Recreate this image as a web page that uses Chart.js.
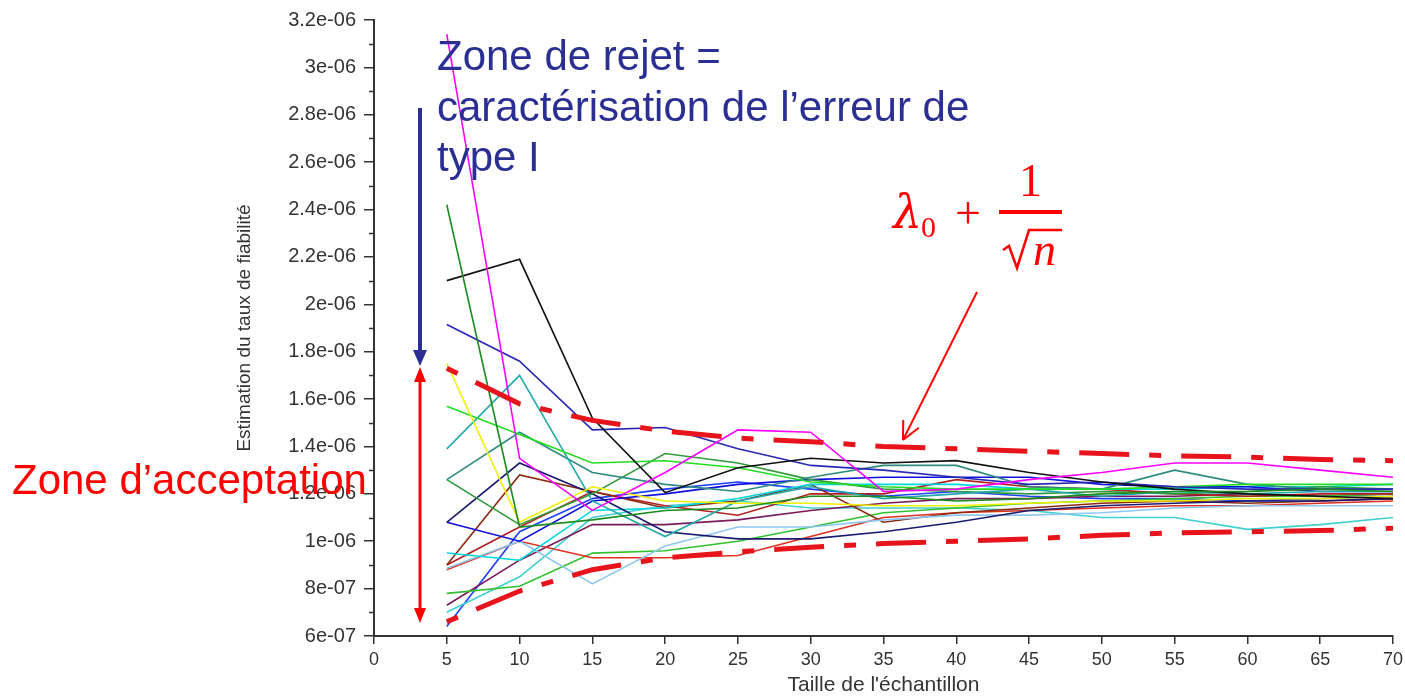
<!DOCTYPE html>
<html lang="fr">
<head>
<meta charset="utf-8">
<title>Estimation du taux de fiabilité</title>
<script src="https://cdn.jsdelivr.net/npm/chart.js@4.4.1/dist/chart.umd.min.js"></script>
<style>
  html, body { margin: 0; padding: 0; background: #ffffff; }
  canvas { display: block; }
</style>
</head>
<body>
<canvas id="chart" width="1405" height="696"></canvas>
<script>
// Sample sizes n at which every estimate was computed
const sampleSizes = [5, 10, 15, 20, 25, 30, 35, 40, 45, 50, 55, 60, 65, 70];

// Axis ticks
const xTickValues = [0, 5, 10, 15, 20, 25, 30, 35, 40, 45, 50, 55, 60, 65, 70];
const yTickValues = [6e-7, 8e-7, 1e-6, 1.2e-6, 1.4e-6, 1.6e-6, 1.8e-6, 2e-6, 2.2e-6, 2.4e-6, 2.6e-6, 2.8e-6, 3e-6, 3.2e-6];
const yTickLabels = ['6e-07', '8e-07', '1e-06', '1.2e-06', '1.4e-06', '1.6e-06', '1.8e-06', '2e-06', '2.2e-06', '2.4e-06', '2.6e-06', '2.8e-06', '3e-06', '3.2e-06'];

// Acceptance bounds lambda0 +/- 1/sqrt(n)
const upperBound = [1.73e-6, 1.58e-6, 1.51e-6, 1.465e-6, 1.435e-6, 1.42e-6, 1.40e-6, 1.39e-6, 1.38e-6, 1.37e-6, 1.36e-6, 1.355e-6, 1.345e-6, 1.34e-6];
const lowerBound = [0.66e-6, 0.79e-6, 0.88e-6, 0.93e-6, 0.955e-6, 0.975e-6, 0.99e-6, 1.0e-6, 1.01e-6, 1.025e-6, 1.035e-6, 1.04e-6, 1.045e-6, 1.055e-6];

// Simulated reliability-rate estimates, one run per series
const run01 = [3.14e-6, 1.35e-6, 1.13e-6, 1.29e-6, 1.47e-6, 1.46e-6, 1.21e-6, 1.22e-6, 1.26e-6, 1.29e-6, 1.33e-6, 1.33e-6, 1.30e-6, 1.27e-6];
const run02 = [2.42e-6, 1.06e-6, 1.09e-6, 1.13e-6, 1.14e-6, 1.19e-6, 1.19e-6, 1.17e-6, 1.18e-6, 1.20e-6, 1.21e-6, 1.21e-6, 1.22e-6, 1.21e-6];
const run03 = [2.10e-6, 2.19e-6, 1.52e-6, 1.205e-6, 1.31e-6, 1.35e-6, 1.33e-6, 1.34e-6, 1.29e-6, 1.25e-6, 1.22e-6, 1.20e-6, 1.19e-6, 1.18e-6];
const run04 = [1.915e-6, 1.76e-6, 1.47e-6, 1.48e-6, 1.39e-6, 1.32e-6, 1.30e-6, 1.27e-6, 1.24e-6, 1.25e-6, 1.23e-6, 1.22e-6, 1.22e-6, 1.22e-6];
const run05 = [1.75e-6, 1.08e-6, 1.23e-6, 1.17e-6, 1.16e-6, 1.16e-6, 1.15e-6, 1.15e-6, 1.16e-6, 1.17e-6, 1.17e-6, 1.18e-6, 1.18e-6, 1.19e-6];
const run06 = [1.57e-6, 1.45e-6, 1.33e-6, 1.34e-6, 1.31e-6, 1.25e-6, 1.23e-6, 1.22e-6, 1.22e-6, 1.22e-6, 1.23e-6, 1.24e-6, 1.24e-6, 1.24e-6];
const run07 = [1.39e-6, 1.70e-6, 1.17e-6, 1.02e-6, 1.17e-6, 1.23e-6, 1.18e-6, 1.20e-6, 1.22e-6, 1.19e-6, 1.21e-6, 1.20e-6, 1.21e-6, 1.21e-6];
const run08 = [1.26e-6, 1.46e-6, 1.29e-6, 1.24e-6, 1.21e-6, 1.27e-6, 1.32e-6, 1.32e-6, 1.23e-6, 1.22e-6, 1.30e-6, 1.24e-6, 1.22e-6, 1.22e-6];
const run09 = [1.26e-6, 1.07e-6, 1.20e-6, 1.37e-6, 1.33e-6, 1.26e-6, 1.22e-6, 1.21e-6, 1.20e-6, 1.21e-6, 1.20e-6, 1.21e-6, 1.23e-6, 1.22e-6];
const run10 = [1.08e-6, 1.33e-6, 1.20e-6, 1.04e-6, 1.01e-6, 1.01e-6, 1.04e-6, 1.08e-6, 1.13e-6, 1.15e-6, 1.16e-6, 1.17e-6, 1.17e-6, 1.18e-6];
const run11 = [1.08e-6, 1.00e-6, 1.17e-6, 1.20e-6, 1.24e-6, 1.26e-6, 1.27e-6, 1.27e-6, 1.27e-6, 1.24e-6, 1.23e-6, 1.23e-6, 1.21e-6, 1.21e-6];
const run12 = [0.95e-6, 0.92e-6, 1.13e-6, 1.14e-6, 1.18e-6, 1.24e-6, 1.24e-6, 1.24e-6, 1.22e-6, 1.22e-6, 1.22e-6, 1.23e-6, 1.23e-6, 1.24e-6];
const run13 = [0.886e-6, 1.00e-6, 0.82e-6, 0.98e-6, 1.06e-6, 1.06e-6, 1.09e-6, 1.11e-6, 1.11e-6, 1.12e-6, 1.14e-6, 1.15e-6, 1.15e-6, 1.15e-6];
const run14 = [0.90e-6, 1.28e-6, 1.21e-6, 1.14e-6, 1.17e-6, 1.24e-6, 1.08e-6, 1.12e-6, 1.14e-6, 1.16e-6, 1.17e-6, 1.16e-6, 1.17e-6, 1.18e-6];
const run15 = [0.90e-6, 1.06e-6, 1.21e-6, 1.15e-6, 1.11e-6, 1.20e-6, 1.20e-6, 1.26e-6, 1.23e-6, 1.22e-6, 1.20e-6, 1.19e-6, 1.20e-6, 1.20e-6];
const run16 = [0.88e-6, 1.00e-6, 0.93e-6, 0.93e-6, 0.94e-6, 1.02e-6, 1.10e-6, 1.12e-6, 1.13e-6, 1.14e-6, 1.15e-6, 1.15e-6, 1.16e-6, 1.17e-6];
const run17 = [0.78e-6, 0.81e-6, 0.95e-6, 0.96e-6, 1.00e-6, 1.06e-6, 1.12e-6, 1.14e-6, 1.16e-6, 1.17e-6, 1.18e-6, 1.19e-6, 1.19e-6, 1.20e-6];
const run18 = [0.73e-6, 0.92e-6, 1.07e-6, 1.07e-6, 1.09e-6, 1.13e-6, 1.16e-6, 1.18e-6, 1.18e-6, 1.19e-6, 1.19e-6, 1.20e-6, 1.19e-6, 1.20e-6];
const run19 = [0.70e-6, 0.85e-6, 1.10e-6, 1.15e-6, 1.17e-6, 1.14e-6, 1.14e-6, 1.14e-6, 1.13e-6, 1.10e-6, 1.10e-6, 1.05e-6, 1.07e-6, 1.10e-6];
const run20 = [0.64e-6, 1.04e-6, 1.18e-6, 1.22e-6, 1.25e-6, 1.22e-6, 1.19e-6, 1.21e-6, 1.19e-6, 1.18e-6, 1.18e-6, 1.17e-6, 1.18e-6, 1.19e-6];

const runs = [run01, run02, run03, run04, run05, run06, run07, run08, run09, run10,
              run11, run12, run13, run14, run15, run16, run17, run18, run19, run20];
const runColors = ['#ff00ff', '#1e8c1e', '#111111', '#2828b4', '#f0f000', '#22dd22', '#22aaaa', '#2e8b80', '#2e9a3a', '#1a1a70',
                   '#1010dd', '#00d8e0', '#8ec8f0', '#8b2a10', '#b02020', '#e03020', '#30c030', '#7a1a5a', '#40d0d0', '#2040ff'];

const toPoints = vals => vals.map((v, i) => ({ x: sampleSizes[i], y: v }));

const boundStyle = {
  borderColor: '#e8141b',
  borderWidth: 5,
  borderDash: [12, 20, 50, 20],
  borderCapStyle: 'butt',
  pointRadius: 0,
  fill: false
};

const datasets = [
  Object.assign({ label: 'borne sup', data: toPoints(upperBound) }, boundStyle),
  Object.assign({ label: 'borne inf', data: toPoints(lowerBound) }, boundStyle)
].concat(runs.map((r, i) => ({
  label: 'run ' + (i + 1),
  data: toPoints(r),
  borderColor: runColors[i],
  borderWidth: 1.6,
  pointRadius: 0,
  fill: false
})));

const AXIS_COLOR = '#333333';
const BLUE_NOTE = '#2b2f93';
const RED_NOTE = '#ff0000';

function arrowHead(ctx, tipX, tipY, dirX, dirY, len, half) {
  const n = Math.hypot(dirX, dirY);
  const ux = dirX / n, uy = dirY / n;
  const bx = tipX - ux * len, by = tipY - uy * len;
  ctx.beginPath();
  ctx.moveTo(tipX, tipY);
  ctx.lineTo(bx - uy * half, by + ux * half);
  ctx.lineTo(bx + uy * half, by - ux * half);
  ctx.closePath();
  ctx.fill();
}

const annotations = {
  id: 'annotations',
  afterDraw(chart) {
    const ctx = chart.ctx;
    const ys = chart.scales.y;
    const axisX = chart.chartArea.left;

    // minor ticks between labelled y ticks
    ctx.save();
    ctx.strokeStyle = AXIS_COLOR;
    ctx.lineWidth = 1.5;
    for (let i = 0; i < yTickValues.length - 1; i++) {
      const py = Math.round(ys.getPixelForValue((yTickValues[i] + yTickValues[i + 1]) / 2)) + 0.5;
      ctx.beginPath();
      ctx.moveTo(axisX - 5, py);
      ctx.lineTo(axisX, py);
      ctx.stroke();
    }
    ctx.restore();

    // rejection zone note
    ctx.save();
    ctx.fillStyle = BLUE_NOTE;
    ctx.font = '42px "Liberation Sans", Arial, sans-serif';
    ctx.textBaseline = 'alphabetic';
    ctx.fillText('Zone de rejet =', 437, 70);
    ctx.fillText('caractérisation de l’erreur de', 437, 121);
    ctx.fillText('type I', 437, 171);

    // blue downward arrow
    ctx.strokeStyle = BLUE_NOTE;
    ctx.lineWidth = 4;
    ctx.beginPath();
    ctx.moveTo(420, 108);
    ctx.lineTo(420, 352);
    ctx.stroke();
    arrowHead(ctx, 420, 366, 0, 1, 16, 7);
    ctx.restore();

    // acceptance zone: red double arrow and label
    ctx.save();
    ctx.strokeStyle = RED_NOTE;
    ctx.fillStyle = RED_NOTE;
    ctx.lineWidth = 3;
    ctx.beginPath();
    ctx.moveTo(420, 380);
    ctx.lineTo(420, 610);
    ctx.stroke();
    arrowHead(ctx, 420, 367, 0, -1, 15, 6);
    arrowHead(ctx, 420, 623, 0, 1, 15, 6);
    ctx.font = '42px "Liberation Sans", Arial, sans-serif';
    ctx.fillText('Zone d’acceptation', 12, 494);
    ctx.restore();

    // formula lambda0 + 1/sqrt(n)
    ctx.save();
    ctx.fillStyle = RED_NOTE;
    ctx.strokeStyle = RED_NOTE;
    ctx.font = 'italic 46px "DejaVu Serif", "Liberation Serif", serif';
    ctx.fillText('λ', 893, 228);
    ctx.font = '30px "Liberation Serif", serif';
    ctx.fillText('0', 921, 237);
    ctx.font = '46px "Liberation Serif", serif';
    ctx.fillText('+', 955, 228);
    ctx.fillRect(999, 210, 63, 4);
    ctx.fillText('1', 1019, 196);
    // radical sign over n
    ctx.lineWidth = 2.5;
    ctx.lineJoin = 'miter';
    ctx.beginPath();
    ctx.moveTo(1003, 250);
    ctx.lineTo(1009, 246);
    ctx.lineTo(1017, 268);
    ctx.lineTo(1029, 230);
    ctx.lineTo(1062, 230);
    ctx.stroke();
    ctx.font = 'italic 46px "Liberation Serif", serif';
    ctx.fillText('n', 1033, 265);

    // thin arrow pointing at the upper bound
    ctx.lineWidth = 2;
    ctx.beginPath();
    ctx.moveTo(977, 292);
    ctx.lineTo(903, 440);
    ctx.stroke();
    const dx = 903 - 977, dy = 440 - 292;
    const ang = Math.atan2(dy, dx);
    ctx.beginPath();
    for (const s of [-1, 1]) {
      const a = ang + Math.PI + s * 0.45;
      ctx.moveTo(903, 440);
      ctx.lineTo(903 + 20 * Math.cos(a), 440 + 20 * Math.sin(a));
    }
    ctx.stroke();
    ctx.restore();
  }
};

new Chart(document.getElementById('chart'), {
  type: 'line',
  data: { datasets },
  plugins: [annotations],
  options: {
    responsive: false,
    animation: false,
    devicePixelRatio: 1,
    layout: { padding: { left: 225, right: 12, top: 17, bottom: 0 } },
    plugins: { legend: { display: false }, tooltip: { enabled: false } },
    elements: { point: { radius: 0 }, line: { tension: 0 } },
    scales: {
      x: {
        type: 'linear',
        min: 0,
        max: 70,
        afterBuildTicks: s => { s.ticks = xTickValues.map(v => ({ value: v })); },
        afterFit: s => { s.height = 60; s.paddingLeft = 0; s.paddingRight = 0; },
        grid: { drawOnChartArea: false, drawTicks: true, tickLength: 8, color: AXIS_COLOR, lineWidth: 1.5 },
        border: { display: true, color: AXIS_COLOR, width: 2 },
        ticks: {
          color: AXIS_COLOR, padding: 5, maxRotation: 0, autoSkip: false,
          font: { family: '"Liberation Sans", Arial, sans-serif', size: 18 }
        },
        title: {
          display: true, text: 'Taille de l\'échantillon', color: AXIS_COLOR,
          padding: { top: 0, bottom: 0 },
          font: { family: '"Liberation Sans", Arial, sans-serif', size: 21, lineHeight: 1 }
        }
      },
      y: {
        type: 'linear',
        min: 6e-7,
        max: 3.2e-6,
        afterBuildTicks: s => { s.ticks = yTickValues.map(v => ({ value: v })); },
        afterFit: s => { s.width = 149; },
        grid: { drawOnChartArea: false, drawTicks: true, tickLength: 10, color: AXIS_COLOR, lineWidth: 1.5 },
        border: { display: true, color: AXIS_COLOR, width: 2 },
        ticks: {
          color: AXIS_COLOR, padding: 8, autoSkip: false,
          callback: (value, index) => yTickLabels[index],
          font: { family: '"Liberation Sans", Arial, sans-serif', size: 20 }
        },
        title: {
          display: true, text: 'Estimation du taux de fiabilité', color: AXIS_COLOR,
          padding: { top: 8, bottom: 0 },
          font: { family: '"Liberation Sans", Arial, sans-serif', size: 19 }
        }
      }
    }
  }
});
</script>
</body>
</html>
